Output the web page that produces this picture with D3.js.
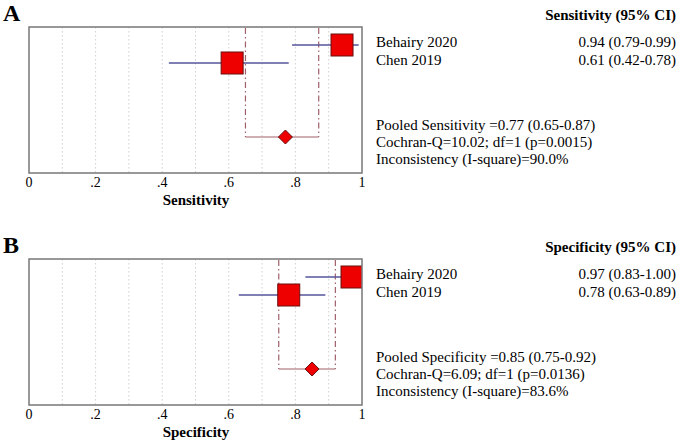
<html>
<script src="https://d3js.org/d3.v7.min.js"></script>
<style>
  body {margin:0; background:#fff;}
  text {font-family: "Liberation Serif", "Times New Roman", serif; fill:#000;}
</style>
<body>
<svg width="685" height="442"></svg>
<script>
var studies = ["Behairy 2020", "Chen 2019"];
var sensVal = [0.94, 0.61];
var sensLo = [0.79, 0.42];
var sensHi = [0.99, 0.78];
var specVal = [0.97, 0.78];
var specLo = [0.83, 0.63];
var specHi = [1.00, 0.89];
var pooledSens = [0.77, 0.65, 0.87];
var pooledSpec = [0.85, 0.75, 0.92];
var tickVals = [0, 0.2, 0.4, 0.6, 0.8, 1];
var tickLabels = ["0", ".2", ".4", ".6", ".8", "1"];
var gridVals = [0.1, 0.2, 0.3, 0.4, 0.5, 0.6, 0.7, 0.8, 0.9];
var sensText = ["Pooled Sensitivity =0.77 (0.65-0.87)", "Cochran-Q=10.02; df=1 (p=0.0015)", "Inconsistency (I-square)=90.0%"];
var specText = ["Pooled Specificity =0.85 (0.75-0.92)", "Cochran-Q=6.09; df=1 (p=0.0136)", "Inconsistency (I-square)=83.6%"];

var svg = d3.select("svg");
var x = d3.scaleLinear().domain([0, 1]).range([29, 362]);

function panel(top, letter, name, val, lo, hi, pooled, lines) {
  var g = svg.append("g").attr("transform", "translate(0," + top + ")");
  var y = d3.scalePoint().domain(studies).range([18, 36]);
  var yPool = 110, h = 146;

  g.append("text").attr("x", 3).attr("y", -6).attr("font-size", 24)
    .attr("font-weight", "bold").text(letter);

  g.selectAll(".grid").data(gridVals).enter().append("line")
    .attr("x1", d => x(d)).attr("x2", d => x(d)).attr("y1", 0).attr("y2", h)
    .attr("stroke", "#d0d0d0").attr("stroke-dasharray", "1.5,2.5");

  // pooled CI bracket
  [pooled[1], pooled[2]].forEach(function (v) {
    g.append("line").attr("x1", x(v)).attr("x2", x(v)).attr("y1", 1).attr("y2", yPool)
      .attr("stroke", "#a0606a").attr("stroke-width", 1.2).attr("stroke-dasharray", "6,3,1.5,3");
  });
  g.append("line").attr("x1", x(pooled[1])).attr("x2", x(pooled[2]))
    .attr("y1", yPool).attr("y2", yPool).attr("stroke", "#a0606a").attr("stroke-width", 1.2);

  g.selectAll(".ci").data(studies).enter().append("line")
    .attr("x1", (d, i) => x(lo[i])).attr("x2", (d, i) => x(hi[i]))
    .attr("y1", d => y(d)).attr("y2", d => y(d))
    .attr("stroke", "#55559a").attr("stroke-width", 1.3);

  var s = 22;
  g.append("clipPath").attr("id", "clip" + letter).append("rect")
    .attr("x", 29).attr("y", 0).attr("width", 333).attr("height", h);
  g.append("g").attr("clip-path", "url(#clip" + letter + ")")
    .selectAll("rect").data(studies).enter().append("rect")
    .attr("x", (d, i) => x(val[i]) - s / 2).attr("y", d => y(d) - s / 2)
    .attr("width", s).attr("height", s)
    .attr("fill", "#ee0000").attr("stroke", "#6a1010").attr("stroke-width", 1);

  var px = x(pooled[0]);
  g.append("path")
    .attr("d", "M" + (px - 7) + "," + yPool + "L" + px + "," + (yPool - 7) + "L" + (px + 7) + "," + yPool + "L" + px + "," + (yPool + 7) + "Z")
    .attr("fill", "#ee0000").attr("stroke", "#6a1010").attr("stroke-width", 1);

  g.append("rect").attr("x", 29).attr("y", 0).attr("width", 333).attr("height", h)
    .attr("fill", "none").attr("stroke", "#777").attr("stroke-width", 1.5);

  g.selectAll(".tick").data(tickVals).enter().append("text")
    .attr("x", d => x(d)).attr("y", h + 14).attr("font-size", 14)
    .attr("text-anchor", "middle")
    .text((d, i) => tickLabels[i]);
  g.append("text").attr("x", 196).attr("y", h + 32).attr("text-anchor", "middle")
    .attr("font-size", 15).attr("font-weight", "bold").text(name);

  g.append("text").attr("x", 676).attr("y", -7).attr("text-anchor", "end")
    .attr("font-size", 15).attr("font-weight", "bold").text(name + " (95% CI)");
  g.selectAll(".st").data(studies).enter().append("text")
    .attr("x", 376).attr("y", (d, i) => 20 + i * 18).attr("font-size", 15).text(d => d);
  g.selectAll(".sv").data(studies).enter().append("text")
    .attr("x", 676).attr("y", (d, i) => 20 + i * 18).attr("font-size", 15).attr("text-anchor", "end")
    .text((d, i) => val[i].toFixed(2) + " (" + lo[i].toFixed(2) + "-" + hi[i].toFixed(2) + ")");
  g.selectAll(".pl").data(lines).enter().append("text")
    .attr("x", 376).attr("y", (d, i) => 103 + i * 17).attr("font-size", 15).text(d => d);
}

panel(27, "A", "Sensitivity", sensVal, sensLo, sensHi, pooledSens, sensText);
panel(259, "B", "Specificity", specVal, specLo, specHi, pooledSpec, specText);
</script>
</body>
</html>
